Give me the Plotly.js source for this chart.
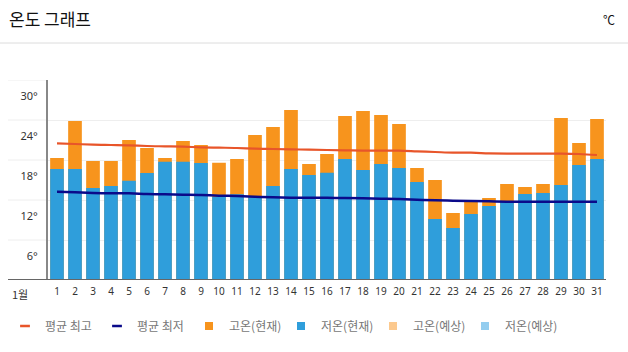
<!DOCTYPE html>
<html><head><meta charset="utf-8">
<script src="https://cdn.plot.ly/plotly-3.0.1.min.js"></script>
<style>html,body{margin:0;padding:0;background:#fff;}#chart{width:628px;height:352px;}</style>
</head><body><div id="chart"></div>
<script>
const days = [1,2,3,4,5,6,7,8,9,10,11,12,13,14,15,16,17,18,19,20,21,22,23,24,25,26,27,28,29,30,31];
const highNow = [18.3,23.85,17.85,17.85,21.0,19.8,18.3,20.85,20.25,17.6,18.15,21.75,22.95,25.5,17.4,18.9,24.6,25.35,24.75,23.4,16.8,15.0,10.05,11.7,12.3,14.4,13.95,14.4,24.3,20.55,24.15];
const lowNow = [16.65,16.65,13.8,14.1,14.9,16.05,17.75,17.75,17.55,12.45,12.85,12.4,14.1,16.65,15.75,16.1,18.15,16.5,17.4,16.8,14.7,9.15,7.8,9.9,11.1,11.8,12.9,13.05,14.25,17.25,18.15];
const avgHigh = [20.5,20.4,20.3,20.25,20.2,20.1,20.05,20.0,19.9,19.85,19.8,19.7,19.65,19.6,19.55,19.5,19.45,19.4,19.4,19.4,19.3,19.2,19.1,19.1,19.0,18.95,18.95,18.95,18.95,18.9,18.75];
const avgLow = [13.25,13.15,13.05,13.0,13.0,12.9,12.85,12.8,12.75,12.65,12.6,12.5,12.4,12.35,12.35,12.35,12.3,12.25,12.2,12.15,12.05,11.95,11.9,11.85,11.8,11.75,11.75,11.75,11.75,11.75,11.75];
const yTickVals = [0,6,12,18,24,30];
const yTickText = ['','6°','12°','18°','24°','30°'];
const monthLabel = '1월';
const legendNames = ['평균 최고','평균 최저','고온(현재)','저온(현재)','고온(예상)','저온(예상)'];

const C = {high:'#f7941d', low:'#2f9edb', avgH:'#e8552a', avgL:'#0a0a8a', fHigh:'#fcc98e', fLow:'#93cdef'};
const KR = '"Noto Sans CJK KR", "Noto Sans", sans-serif';
const nulls = days.map(()=>null);

function legendTrace(name, color, isLine){
  return {type:'scatter', mode:'markers', x:days, y:nulls, name:name, hoverinfo:'skip',
    marker: isLine ? {symbol:'line-ew', size:7, line:{color:color, width:2.5}, color:color}
                   : {symbol:'square', size:8, color:color, line:{width:0}}};
}

const data = [
  legendTrace(legendNames[0], C.avgH, true),
  legendTrace(legendNames[1], C.avgL, true),
  legendTrace(legendNames[2], C.high, false),
  legendTrace(legendNames[3], C.low, false),
  legendTrace(legendNames[4], C.fHigh, false),
  legendTrace(legendNames[5], C.fLow, false),
  {type:'bar', x:days, y:highNow, marker:{color:C.high}, showlegend:false, name:legendNames[2]},
  {type:'bar', x:days, y:lowNow, marker:{color:C.low}, showlegend:false, name:legendNames[3]},
  {type:'scatter', mode:'lines', x:days, y:avgHigh, line:{color:C.avgH, width:2.2, shape:'spline'}, showlegend:false, name:legendNames[0]},
  {type:'scatter', mode:'lines', x:days, y:avgLow, line:{color:C.avgL, width:2.5, shape:'spline'}, showlegend:false, name:legendNames[1]}
];

const L = 48, R = 22, T = 80, B = 72, W = 628, H = 352;
const pw = W - L - R, ph = H - T - B;
const px2x = p => (p - L) / pw;
const py2y = p => (H - B - p) / ph;

const shapes = [
  {type:'line', xref:'paper', yref:'paper', x0:px2x(0), x1:px2x(W), y0:py2y(43), y1:py2y(43), line:{color:'#dcdcdc', width:1}},
  {type:'line', xref:'paper', yref:'y', x0:px2x(8), x1:1, y0:0, y1:0, line:{color:'#666', width:2}}
];
yTickVals.slice(1).forEach(v => shapes.push({type:'line', xref:'paper', yref:'y', x0:px2x(8), x1:0, y0:v, y1:v, line:{color:'#eeeeee', width:1}, layer:'below'}));

const layout = {
  width:W, height:H,
  margin:{l:L, r:R, t:T, b:B, pad:0},
  paper_bgcolor:'#fff', plot_bgcolor:'#fff',
  title:{text:'온도 그래프', xref:'container', yref:'container', x:9/W, xanchor:'left', y:1-20/H, yanchor:'middle', font:{family:KR, size:17, color:'#111'}},
  barmode:'overlay', bargap:0.24,
  showlegend:true,
  legend:{orientation:'h', xref:'container', yref:'container', x:5/W, xanchor:'left', y:1-326/H, yanchor:'middle', font:{family:KR, size:12, color:'#777'}, itemwidth:30, entrywidth:47, entrywidthmode:'pixels', traceorder:'normal', bgcolor:'rgba(0,0,0,0)', borderwidth:0},
  xaxis:{range:[0.5,31.5], tickmode:'array', tickvals:days, ticktext:days.map(String), ticks:'', showgrid:false, zeroline:false, showline:false, fixedrange:true,
    tickfont:{family:'"Noto Sans", sans-serif', size:10, color:'#333'}, ticklabelstandoff:4},
  yaxis:{range:[0,30], tickmode:'array', tickvals:yTickVals, ticktext:yTickText, ticks:'', showgrid:true, gridcolor:'#eeeeee', gridwidth:1, zeroline:false,
    showline:true, linecolor:'#888', linewidth:2, fixedrange:true, ticklabelshift:16, ticklabelstandoff:6,
    tickfont:{family:'"Noto Sans", sans-serif', size:11, color:'#333'}},
  shapes:shapes,
  annotations:[
    {text:'℃', xref:'paper', yref:'paper', x:px2x(609), y:py2y(20), xanchor:'center', yanchor:'middle', showarrow:false, font:{family:KR, size:12, color:'#111'}},
    {text:monthLabel, xref:'paper', yref:'paper', x:px2x(20), y:py2y(294), xanchor:'center', yanchor:'middle', showarrow:false, font:{family:KR, size:11, color:'#333'}}
  ]
};

Plotly.newPlot('chart', data, layout, {displayModeBar:false, staticPlot:true});
</script>
</body></html>
